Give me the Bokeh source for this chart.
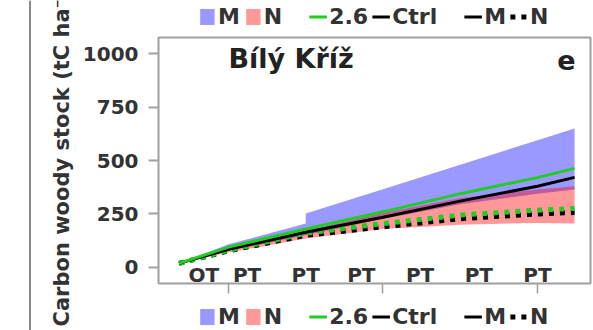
from bokeh.plotting import figure
from bokeh.models import Range1d, FixedTicker, Legend, LegendItem, Label, Span
from bokeh.layouts import row, column
from bokeh.core.properties import value
from bokeh.embed import file_html
from bokeh.resources import INLINE

# ---- data ----
years    = [1984, 2000, 2025, 2025, 2050, 2075, 2100, 2112]
m_max    = [19, 108, 205, 252, 366, 480, 595, 650]
m_min    = [19, 78, 150, 150, 228, 295, 345, 365]
n_max    = [19, 88, 172, 172, 255, 325, 365, 380]
n_min    = [19, 70, 135, 135, 180, 200, 208, 206]
rcp26_m  = [19, 95, 180, 180, 260, 345, 420, 463]
ctrl_m   = [19, 85, 165, 165, 235, 310, 380, 421]
rcp26_n  = [19, 80, 160, 160, 205, 245, 268, 276]
ctrl_n   = [19, 78, 150, 150, 190, 228, 250, 257]

stage_x      = [1992, 2006, 2025, 2043, 2062, 2081, 2100]
stage_labels = ["OT", "PT", "PT", "PT", "PT", "PT", "PT"]
stage_y      = -33

y_ticks = [0, 250, 500, 750, 1000]
x_ticks = [2000, 2050, 2100]

legend_labels = ["M", "N   ", "2.6", "Ctrl   ", "M", "N"]
y_title = "Carbon woody stock (tC ha\u207b\u00b9)"

FONT = "DejaVu Sans"
TXT = "#333333"
FRAME = "#a0a0a0"
BLUE = "#0000ff"
RED = "#ff0000"
GREEN = "#22cc22"

LEFT_W = 75

# ---- left strip: vertical rule + y-axis title ----
p0 = figure(width=LEFT_W, height=330, x_range=Range1d(0, LEFT_W), y_range=Range1d(0, 330),
            toolbar_location=None, output_backend="svg", min_border=0,
            x_axis_location=None, y_axis_location=None)
p0.outline_line_color = None
p0.grid.visible = False
p0.add_layout(Span(location=29.5, dimension="height", line_color="#8a8a8a", line_width=2))
p0.add_layout(Label(x=61, y=178, x_units="screen", y_units="screen", text=y_title,
                    angle=90, angle_units="deg", text_align="center", text_baseline="middle",
                    text_font=FONT, text_font_style="bold", text_font_size="21px",
                    text_color=TXT))

# ---- main panel ----
p = figure(width=593 - LEFT_W, height=270, x_range=Range1d(1977.35, 2117.15),
           y_range=Range1d(-75, 1075),
           toolbar_location=None, output_backend="svg",
           min_border_left=158 - LEFT_W, min_border_right=3, min_border_top=5, min_border_bottom=19)
p.outline_line_color = FRAME
p.outline_line_width = 2
p.grid.visible = False
p.background_fill_color = "white"
p.border_fill_color = "white"

p.varea(x=years, y1=m_min, y2=m_max, fill_color=BLUE, fill_alpha=0.4)
p.varea(x=years, y1=n_min, y2=n_max, fill_color=RED, fill_alpha=0.4)
p.line(years, ctrl_n, line_color="black", line_width=5, line_dash="5 6")
p.line(years, rcp26_n, line_color=GREEN, line_width=5, line_dash="5 6")
p.line(years, ctrl_m, line_color="black", line_width=3)
p.line(years, rcp26_m, line_color=GREEN, line_width=3)

p.text(x=stage_x, y=[stage_y] * len(stage_x), text=stage_labels,
       text_font=value(FONT), text_font_style="bold", text_font_size="20px",
       text_color=TXT, text_align="center", text_baseline="middle")

p.add_layout(Label(x=2000, y=977, text="Bílý Kříž", text_font=FONT, text_font_style="bold",
                   text_font_size="27px", text_color="#222222", text_align="left",
                   text_baseline="middle"))
p.add_layout(Label(x=2112.3, y=970, text="e", text_font=FONT, text_font_style="bold",
                   text_font_size="27px", text_color="#222222", text_align="right",
                   text_baseline="middle"))

ya = p.yaxis[0]
ya.ticker = FixedTicker(ticks=y_ticks)
ya.axis_line_color = None
ya.major_tick_line_color = FRAME
ya.major_tick_line_width = 2
ya.major_tick_out = 10
ya.major_tick_in = 0
ya.minor_tick_line_color = None
ya.major_label_standoff = 10
ya.major_label_text_font = FONT
ya.major_label_text_font_style = "bold"
ya.major_label_text_font_size = "20px"
ya.major_label_text_color = TXT

xa = p.xaxis[0]
xa.ticker = FixedTicker(ticks=x_ticks)
xa.axis_line_color = None
xa.major_tick_line_color = FRAME
xa.major_tick_line_width = 1.5
xa.major_tick_out = 10
xa.major_tick_in = 0
xa.minor_tick_line_color = None
xa.major_label_text_color = None
xa.major_label_text_font_size = "1px"
xa.major_label_standoff = 0


# ---- legend strips (above and below the panel) ----
def legend_strip(h):
    # series drawn outside this strip's visible range: only their legend swatches show
    f = figure(width=593 - LEFT_W, height=h, x_range=Range1d(0, 1), y_range=Range1d(0, 1),
               toolbar_location=None, output_backend="svg",
               min_border_left=158 - LEFT_W, min_border_right=3,
               min_border_top=0, min_border_bottom=0,
               x_axis_location=None, y_axis_location=None)
    f.outline_line_color = None
    f.grid.visible = False
    g_m = f.varea(x=years, y1=m_min, y2=m_max, fill_color=BLUE, fill_alpha=0.4)
    g_n = f.varea(x=years, y1=n_min, y2=n_max, fill_color=RED, fill_alpha=0.4)
    g_26 = f.line(years, rcp26_m, line_color=GREEN, line_width=3)
    g_ctrl = f.line(years, ctrl_m, line_color="black", line_width=3)
    g_dot = f.line(years, ctrl_n, line_color="black", line_width=5, line_dash="5 6")
    rends = [g_m, g_n, g_26, g_ctrl, g_ctrl, g_dot]
    items = [LegendItem(label=lab, renderers=[r]) for lab, r in zip(legend_labels, rends)]
    leg = Legend(items=items, orientation="horizontal", location="center",
                 glyph_width=18, glyph_height=20, label_standoff=2, spacing=4,
                 padding=0, margin=0, border_line_color=None,
                 background_fill_alpha=0,
                 label_text_font=FONT, label_text_font_style="bold",
                 label_text_font_size="22px", label_text_color=TXT)
    f.add_layout(leg, "center")
    return f


top = legend_strip(32)
bottom = legend_strip(28)

layout = row(p0, column(top, p, bottom, spacing=0), spacing=0)
open("out.html", "w").write(file_html(layout, INLINE))
